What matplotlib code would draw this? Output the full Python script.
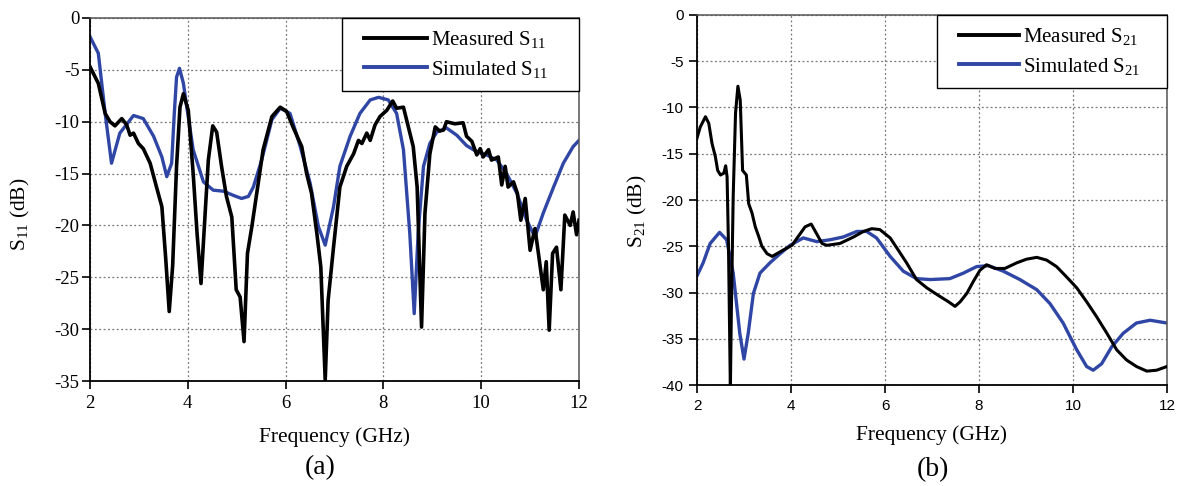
import matplotlib
matplotlib.use("Agg")
import matplotlib.pyplot as plt
from matplotlib.lines import Line2D
from matplotlib.legend_handler import HandlerLine2D

# ---- S11 data (GHz, dB) ----
s11_meas_f = [2.0, 2.17, 2.31, 2.41, 2.51, 2.65, 2.75, 2.82, 2.89, 2.99, 3.09, 3.23, 3.36, 3.47,
              3.55, 3.62, 3.69, 3.77, 3.84, 3.91, 4.01, 4.11, 4.19, 4.27, 4.35, 4.42, 4.51, 4.59,
              4.69, 4.79, 4.9, 4.99, 5.07, 5.15, 5.22, 5.31, 5.41, 5.54, 5.72, 5.89, 6.02, 6.16,
              6.33, 6.43, 6.53, 6.64, 6.72, 6.81, 6.87, 6.98, 7.11, 7.25, 7.39, 7.49, 7.56, 7.66,
              7.73, 7.83, 7.93, 8.07, 8.19, 8.27, 8.41, 8.51, 8.61, 8.69, 8.78, 8.85, 8.95, 9.06,
              9.15, 9.23, 9.29, 9.46, 9.63, 9.7, 9.81, 9.91, 9.98, 10.04, 10.15, 10.21, 10.35,
              10.42, 10.49, 10.55, 10.66, 10.74, 10.81, 10.9, 11.0, 11.1, 11.17, 11.27, 11.33,
              11.39, 11.46, 11.54, 11.63, 11.71, 11.82, 11.88, 11.95, 12.0]
s11_meas_db = [-4.7, -6.3, -9.2, -10.0, -10.4, -9.7, -10.3, -11.3, -11.1, -12.1, -12.6, -14.0, -16.3,
               -18.2, -23.3, -28.3, -23.9, -14.3, -8.6, -7.3, -8.9, -15.0, -20.8, -25.6, -19.2,
               -13.7, -10.4, -11.0, -14.3, -17.2, -19.2, -26.2, -26.9, -31.2, -22.7, -20.1, -16.9,
               -12.7, -9.5, -8.6, -9.0, -10.6, -12.4, -15.0, -16.9, -20.8, -24.0, -34.9, -27.2,
               -22.1, -16.3, -14.3, -13.1, -11.8, -12.1, -11.1, -11.8, -10.3, -9.5, -8.9, -8.0,
               -8.7, -8.6, -10.5, -12.4, -16.3, -29.8, -18.8, -13.1, -10.5, -10.9, -10.8, -10.0,
               -10.2, -10.1, -11.4, -11.9, -13.2, -12.6, -13.4, -12.7, -13.7, -13.4, -16.1, -14.3,
               -16.3, -15.8, -16.9, -19.5, -17.4, -22.4, -20.3, -22.7, -26.2, -23.5, -30.1, -22.7,
               -22.1, -26.2, -19.0, -20.0, -18.7, -20.9, -19.5]

s11_sim_f = [2.0, 2.17, 2.31, 2.44, 2.61, 2.89, 3.09, 3.3, 3.47, 3.57, 3.67, 3.72, 3.77, 3.83, 3.91,
             3.98, 4.11, 4.32, 4.52, 4.73, 4.93, 5.1, 5.24, 5.34, 5.51, 5.72, 5.89, 6.09, 6.3, 6.5,
             6.67, 6.81, 6.98, 7.11, 7.32, 7.52, 7.73, 7.9, 8.1, 8.27, 8.41, 8.54, 8.63, 8.71, 8.82,
             8.95, 9.09, 9.29, 9.5, 9.7, 9.91, 10.11, 10.32, 10.52, 10.73, 10.93, 11.1, 11.27,
             11.48, 11.68, 11.88, 12.0]
s11_sim_db = [-1.8, -3.4, -9.2, -14.0, -11.1, -9.4, -9.7, -11.4, -13.4, -15.3, -14.0, -9.5, -5.7,
              -4.85, -6.3, -8.6, -12.7, -15.8, -16.6, -16.7, -17.1, -17.4, -17.2, -16.3, -13.7,
              -9.8, -8.7, -9.2, -12.4, -15.9, -20.1, -21.9, -18.2, -14.3, -11.4, -9.2, -7.9, -7.65,
              -7.9, -9.2, -12.7, -20.8, -28.5, -20.8, -14.3, -12.1, -11.0, -10.6, -11.3, -12.3,
              -12.9, -13.2, -13.7, -15.0, -16.9, -19.5, -21.1, -18.8, -16.3, -14.0, -12.4, -11.8]

# ---- S21 data (GHz, dB) ----
s21_meas_f = [2.0, 2.07, 2.18, 2.25, 2.32, 2.39, 2.44, 2.5, 2.57, 2.61, 2.64, 2.67, 2.71, 2.73,
              2.77, 2.82, 2.87, 2.92, 2.97, 3.05, 3.1, 3.17, 3.24, 3.31, 3.38, 3.49, 3.6, 3.7,
              3.84, 4.02, 4.16, 4.3, 4.43, 4.54, 4.66, 4.76, 5.04, 5.33, 5.54, 5.72, 5.89, 6.11,
              6.28, 6.46, 6.67, 6.89, 7.13, 7.35, 7.49, 7.6, 7.74, 7.88, 8.02, 8.16, 8.34, 8.55,
              8.8, 9.01, 9.23, 9.44, 9.65, 9.86, 10.08, 10.29, 10.5, 10.72, 10.93, 11.14, 11.35,
              11.57, 11.78, 12.0]
s21_meas_db = [-13.3, -12.1, -11.0, -11.7, -13.9, -15.3, -16.8, -17.3, -17.1, -16.3, -17.5, -25.0,
               -40.5, -32.3, -19.6, -10.6, -7.7, -9.2, -16.8, -17.3, -20.4, -21.4, -22.9, -23.9,
               -25.0, -25.8, -26.1, -25.8, -25.4, -24.9, -23.9, -22.9, -22.6, -23.6, -24.7, -24.9,
               -24.7, -24.0, -23.4, -23.1, -23.2, -24.1, -25.4, -26.8, -28.6, -29.5, -30.3, -31.0,
               -31.5, -31.0, -30.1, -28.8, -27.6, -27.0, -27.4, -27.4, -26.8, -26.4, -26.2, -26.5,
               -27.2, -28.3, -29.5, -31.0, -32.6, -34.4, -36.2, -37.3, -38.0, -38.5, -38.4, -38.0]

s21_sim_f = [2.0, 2.13, 2.28, 2.48, 2.63, 2.77, 2.91, 3.0, 3.09, 3.2, 3.34, 3.55, 3.77, 3.98, 4.26,
             4.55, 4.83, 5.11, 5.4, 5.61, 5.82, 6.11, 6.39, 6.67, 6.96, 7.38, 7.67, 7.95, 8.2,
             8.52, 8.87, 9.23, 9.51, 9.79, 10.08, 10.29, 10.43, 10.61, 10.82, 11.07, 11.35,
             11.64, 12.0]
s21_sim_db = [-28.2, -26.8, -24.7, -23.5, -24.3, -27.9, -34.4, -37.2, -34.4, -30.1, -27.9, -26.8,
              -25.8, -24.9, -24.1, -24.5, -24.3, -24.0, -23.4, -23.4, -24.1, -26.1, -27.7, -28.5,
              -28.6, -28.5, -27.9, -27.2, -27.1, -27.7, -28.6, -29.7, -31.2, -33.3, -36.2, -38.0,
              -38.4, -37.7, -35.9, -34.4, -33.3, -33.0, -33.3]

x_ticks = [2, 4, 6, 8, 10, 12]
s11_yticks = [0, -5, -10, -15, -20, -25, -30, -35]
s21_yticks = [0, -5, -10, -15, -20, -25, -30, -35, -40]

BLUE = "#2f46a4"

plt.rcParams["font.family"] = ["Liberation Serif", "DejaVu Serif"]
plt.rcParams["mathtext.fontset"] = "custom"
plt.rcParams["mathtext.rm"] = "Liberation Serif"
plt.rcParams["mathtext.it"] = "Liberation Serif:italic"
plt.rcParams["axes.unicode_minus"] = False

W, H = 1179, 486
fig = plt.figure(figsize=(W / 100, H / 100), dpi=100)
ax1 = fig.add_axes([90 / W, 1 - 381 / H, 489 / W, 363 / H])
ax2 = fig.add_axes([697 / W, 1 - 385 / H, 470 / W, 370 / H])


def style_axes(ax, yticks, ylim, tick_family, tick_size, ypad):
    ax.set_xlim(2, 12)
    ax.set_ylim(*ylim)
    ax.set_xticks(x_ticks)
    ax.set_yticks(yticks)
    ax.grid(True, color="#777777", linestyle=(0, (1.5, 2.0)), linewidth=0.9)
    ax.set_axisbelow(True)
    for side in ("left", "bottom"):
        ax.spines[side].set_color("black")
        ax.spines[side].set_linewidth(1.3)
    for side in ("top", "right"):
        ax.spines[side].set_color("#555555")
        ax.spines[side].set_linewidth(1.1)
    ax.tick_params(direction="out", length=6, width=1.2, top=False, right=False,
                   labelsize=tick_size, labelfontfamily=tick_family, colors="black")
    ax.tick_params(axis="x", pad=4)
    ax.tick_params(axis="y", pad=ypad)


def add_legend(ax, x0, box_h, handle_len):
    leg = ax.legend(loc="upper left", bbox_to_anchor=(x0, 1 - box_h, 1 - x0, box_h),
                    mode="expand", borderaxespad=0, fancybox=False, framealpha=1,
                    edgecolor="black", fontsize=15, handlelength=handle_len,
                    handletextpad=0.2, labelspacing=0.4, borderpad=0.55,
                    handler_map={Line2D: HandlerLine2D(xpad=0.5)})
    leg.get_frame().set_linewidth(1.0)
    for line in leg.get_lines():
        line.set_linewidth(2.8)


# (a) reflection coefficient
ax1.plot(s11_meas_f, s11_meas_db, color="black", lw=2.6, label="Measured S$_{11}$", zorder=3)
ax1.plot(s11_sim_f, s11_sim_db, color=BLUE, lw=2.4, label="Simulated S$_{11}$", zorder=2)
style_axes(ax1, s11_yticks, (-35, 0), "Liberation Serif", 13.5, 1.5)
ax1.set_xlabel("Frequency (GHz)", fontsize=15.5, va="center")
ax1.xaxis.set_label_coords(0.5, -(437 - 381) / 363)
ax1.set_ylabel("S$_{11}$ (dB)", fontsize=15.5, va="center")
ax1.yaxis.set_label_coords((20 - 90) / 489, 0.46)
add_legend(ax1, (342 - 90) / 489, 72 / 363, 3.53)

# (b) transmission coefficient
ax2.plot(s21_meas_f, s21_meas_db, color="black", lw=2.2, label="Measured S$_{21}$", zorder=3)
ax2.plot(s21_sim_f, s21_sim_db, color=BLUE, lw=2.4, label="Simulated S$_{21}$", zorder=2)
style_axes(ax2, s21_yticks, (-40, 0), "Liberation Sans", 11, 3.5)
ax2.set_xlabel("Frequency (GHz)", fontsize=15.5, va="center")
ax2.xaxis.set_label_coords(0.5, -(435 - 385) / 370)
ax2.set_ylabel("S$_{21}$ (dB)", fontsize=15.5, va="center")
ax2.yaxis.set_label_coords((637 - 697) / 470, 0.47)
add_legend(ax2, (937 - 697) / 470, 75 / 370, 3.39)

fig.text(320 / W, 1 - 468 / H, "(a)", fontsize=20, ha="center", va="center")
fig.text(933 / W, 1 - 470 / H, "(b)", fontsize=20, ha="center", va="center")

fig.savefig("out.png", dpi=100, facecolor="white")
